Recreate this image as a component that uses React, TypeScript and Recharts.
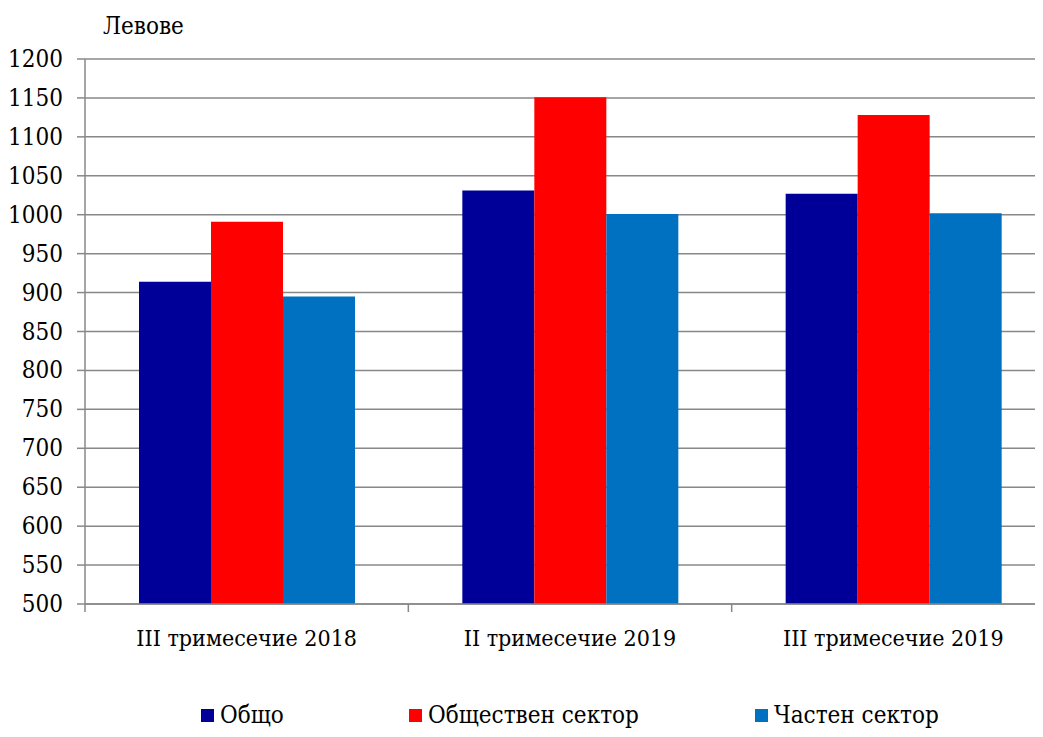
import React from "react";
import { Bar, BarChart, CartesianGrid, Legend, XAxis, YAxis } from "recharts";

const categories = ["III тримесечие 2018", "II тримесечие 2019", "III тримесечие 2019"];
const total = [914, 1031, 1027];
const publicSector = [991, 1151, 1128];
const privateSector = [895, 1001, 1002];
const yTicks = [500, 550, 600, 650, 700, 750, 800, 850, 900, 950, 1000, 1050, 1100, 1150, 1200];

const series = [
  { key: "total", name: "Общо", color: "#000099" },
  { key: "public", name: "Обществен сектор", color: "#FF0000" },
  { key: "private", name: "Частен сектор", color: "#0070C0" },
];

const data = categories.map((c, i) => ({
  name: c,
  total: total[i],
  public: publicSector[i],
  private: privateSector[i],
}));

const FONT = "'DejaVu Serif Condensed', 'DejaVu Serif', serif";
const textStyle = { fontFamily: FONT, fontStretch: "condensed" as const };
const CHART_W = 1063;
const PLOT_LEFT = 85;
const PLOT_RIGHT = 8;
const BAND = (CHART_W - PLOT_LEFT - PLOT_RIGHT) / categories.length;

function CategoryTick(props: any) {
  const { x, y, payload, index } = props;
  const left = x - BAND / 2;
  return (
    <g>
      <line x1={left} y1={y - 8} x2={left} y2={y} stroke="#888" strokeWidth={1.5} />
      {index === categories.length - 1 && (
        <line x1={left + BAND} y1={y - 8} x2={left + BAND} y2={y} stroke="#888" strokeWidth={1.5} />
      )}
      <text x={x} y={y + 34} textAnchor="middle" fontSize={23} style={textStyle} fill="#000">
        {payload.value}
      </text>
    </g>
  );
}

function YTick(props: any) {
  const { x, y, payload } = props;
  return (
    <text x={x} y={y + 8} textAnchor="end" fontSize={24} style={textStyle} fill="#000">
      {payload.value}
    </text>
  );
}

function LegendContent() {
  const spots = [201, 409, 755];
  return (
    <div style={{ position: "relative", height: 36, ...textStyle, fontSize: 24, lineHeight: "26px", color: "#000" }}>
      {series.map((s, i) => (
        <div key={s.key} style={{ position: "absolute", left: spots[i], top: 3, display: "flex", alignItems: "center" }}>
          <span style={{ width: 13, height: 13, background: s.color, display: "inline-block", marginRight: 6 }} />
          <span>{s.name}</span>
        </div>
      ))}
    </div>
  );
}

export default function App() {
  return (
    <div style={{ margin: -8, width: 1043, height: 737, overflow: "hidden", background: "#fff" }}>
      <BarChart
        width={CHART_W}
        height={737}
        data={data}
        margin={{ top: 59, right: PLOT_RIGHT, left: 0, bottom: 0 }}
        barCategoryGap="16.7%"
        barGap={0}
      >
        <CartesianGrid stroke="#888" strokeWidth={1.5} vertical={false} />
        <XAxis
          dataKey="name"
          height={95}
          tick={<CategoryTick />}
          tickLine={false}
          axisLine={{ stroke: "#888", strokeWidth: 1.5 }}
          interval={0}
        />
        <YAxis
          width={PLOT_LEFT}
          domain={[500, 1200]}
          ticks={yTicks}
          interval={0}
          tick={<YTick />}
          tickSize={8}
          tickMargin={14}
          tickLine={{ stroke: "#888", strokeWidth: 1.5 }}
          axisLine={{ stroke: "#888", strokeWidth: 1.5 }}
          label={{
            content: (p: any) => (
              <text x={p.viewBox.x + 103} y={p.viewBox.y - 25} fontSize={24} style={textStyle} fill="#000">
                Левове
              </text>
            ),
          }}
        />
        <Legend verticalAlign="bottom" height={38} content={<LegendContent />} />
        {series.map((s) => (
          <Bar key={s.key} dataKey={s.key} name={s.name} fill={s.color} isAnimationActive={false} />
        ))}
      </BarChart>
    </div>
  );
}
